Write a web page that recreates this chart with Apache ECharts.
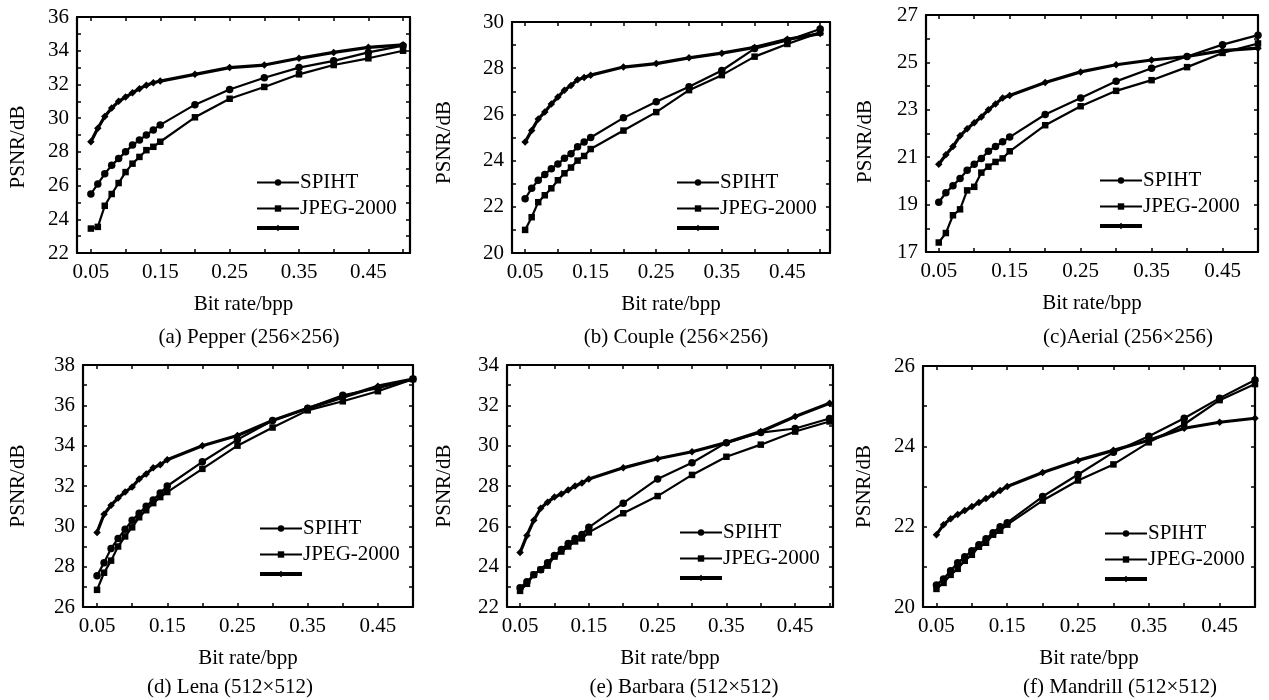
<!DOCTYPE html>
<html>
<head>
<meta charset="utf-8">
<script src="https://cdn.jsdelivr.net/npm/echarts@6/dist/echarts.min.js"></script>
<style>html,body{margin:0;padding:0;background:#fff;}#c{width:1269px;height:700px;}</style>
</head>
<body>
<div id="c"></div>
<script>
// ---- data ----
const bitRates = [0.05,0.06,0.07,0.08,0.09,0.10,0.11,0.12,0.13,0.14,0.15,0.20,0.25,0.30,0.35,0.40,0.45,0.50];
const xTickValues = [0.05,0.10,0.15,0.20,0.25,0.30,0.35,0.40,0.45,0.50];
const xLabelValues = [0.05,0.15,0.25,0.35,0.45];
const seriesNames = ['SPIHT','JPEG-2000','Proposed'];

const pepperSPIHT = [25.5,26.1,26.7,27.2,27.6,28.0,28.4,28.7,29.0,29.3,29.6,30.8,31.7,32.4,33.0,33.4,33.9,34.3];
const pepperJPEG  = [23.45,23.55,24.8,25.5,26.15,26.8,27.3,27.7,28.1,28.3,28.6,30.05,31.15,31.85,32.6,33.15,33.55,34.0];
const pepperProp  = [28.6,29.4,30.1,30.6,31.0,31.25,31.5,31.75,31.95,32.1,32.2,32.6,33.0,33.15,33.55,33.9,34.2,34.35];

const coupleSPIHT = [22.35,22.8,23.15,23.4,23.65,23.85,24.1,24.3,24.6,24.8,25.0,25.85,26.55,27.2,27.9,28.85,29.2,29.7];
const coupleJPEG  = [21.0,21.55,22.2,22.5,22.8,23.15,23.45,23.7,24.0,24.2,24.5,25.3,26.1,27.05,27.7,28.5,29.05,29.55];
const coupleProp  = [24.8,25.3,25.8,26.1,26.45,26.75,27.05,27.25,27.5,27.6,27.7,28.05,28.2,28.45,28.65,28.9,29.25,29.5];

const aerialSPIHT = [19.1,19.5,19.8,20.1,20.45,20.7,20.95,21.25,21.45,21.65,21.85,22.8,23.5,24.2,24.75,25.25,25.75,26.15];
const aerialJPEG  = [17.4,17.8,18.55,18.8,19.6,19.75,20.35,20.6,20.8,20.95,21.25,22.35,23.15,23.8,24.25,24.8,25.4,25.8];
const aerialProp  = [20.7,21.1,21.45,21.9,22.2,22.45,22.7,23.0,23.25,23.5,23.6,24.15,24.6,24.9,25.1,25.25,25.5,25.6];

const lenaSPIHT = [27.55,28.2,28.9,29.4,29.85,30.3,30.65,31.0,31.3,31.65,32.0,33.2,34.3,35.25,35.85,36.5,36.85,37.3];
const lenaJPEG  = [26.85,27.7,28.3,29.0,29.5,29.95,30.45,30.8,31.15,31.45,31.7,32.85,34.0,34.9,35.75,36.2,36.7,37.3];
const lenaProp  = [29.7,30.6,31.05,31.4,31.7,31.95,32.35,32.6,32.9,33.05,33.3,34.0,34.5,35.25,35.85,36.4,36.95,37.3];

const barbaraSPIHT = [22.95,23.25,23.6,23.85,24.2,24.55,24.85,25.15,25.4,25.6,25.95,27.15,28.35,29.15,30.15,30.65,30.85,31.35];
const barbaraJPEG  = [22.8,23.15,23.6,23.85,24.05,24.5,24.75,25.0,25.25,25.4,25.7,26.65,27.5,28.55,29.45,30.05,30.7,31.2];
const barbaraProp  = [24.7,25.55,26.3,26.9,27.2,27.45,27.6,27.8,28.0,28.15,28.35,28.9,29.35,29.7,30.15,30.7,31.45,32.1];

const mandrillSPIHT = [20.55,20.7,20.9,21.1,21.25,21.4,21.55,21.7,21.85,22.0,22.1,22.75,23.3,23.85,24.25,24.7,25.2,25.65];
const mandrillJPEG  = [20.45,20.6,20.8,20.95,21.15,21.3,21.5,21.6,21.8,21.9,22.05,22.65,23.15,23.55,24.1,24.55,25.15,25.55];
const mandrillProp  = [21.8,22.05,22.2,22.3,22.4,22.5,22.6,22.7,22.8,22.9,23.0,23.35,23.65,23.9,24.15,24.45,24.6,24.7];

const captions = ['(a) Pepper (256×256)','(b) Couple (256×256)','(c)Aerial (256×256)',
                  '(d) Lena (512×512)','(e) Barbara (512×512)','(f) Mandrill (512×512)'];
const yMins = [22,20,17,26,22,20];
const yMaxs = [36,30,27,38,34,26];
const panelSeries = [
  [pepperSPIHT,pepperJPEG,pepperProp],
  [coupleSPIHT,coupleJPEG,coupleProp],
  [aerialSPIHT,aerialJPEG,aerialProp],
  [lenaSPIHT,lenaJPEG,lenaProp],
  [barbaraSPIHT,barbaraJPEG,barbaraProp],
  [mandrillSPIHT,mandrillJPEG,mandrillProp]
];

// ---- layout ----
const FONT = 'Liberation Serif';
const layout = [
  {left:77, top:17, width:333, height:236, xmin:0.03, xmax:0.51, yGap:48, yPad:24, capX:249, capY:337, legL:255, legT:172},
  {left:512,top:22, width:318, height:231, xmin:0.03, xmax:0.515,yGap:57, yPad:10, capX:676, capY:337, legL:675, legT:172},
  {left:926,top:15, width:332, height:237, xmin:0.032,xmax:0.5, yGap:50, yPad:16, capX:1128,capY:337, legL:1098,legT:170},
  {left:83, top:365,width:330, height:242, xmin:0.03, xmax:0.5,  yGap:54, yPad:0,  capX:230, capY:687, legL:258, legT:518},
  {left:507,top:365,width:326, height:242, xmin:0.031,xmax:0.505,yGap:52, yPad:0,  capX:684, capY:687, legL:678, legT:522},
  {left:923,top:366,width:332, height:241, xmin:0.031,xmax:0.5,  yGap:48, yPad:0,  capX:1120,capY:687, legL:1103,legT:523}
];

const symbols = ['circle','rect','diamond'];
const widths = [2.2,2.2,3.2];

const grids=[], xAxes=[], yAxes=[], series=[], legends=[], graphics=[];
layout.forEach((L,i)=>{
  grids.push({left:L.left, top:L.top, width:L.width, height:L.height, containLabel:false});
  const lineS = {show:true, onZero:false, lineStyle:{color:'#000', width:2.2}};
  const tickS = {show:true, inside:true, length:4, lineStyle:{color:'#000', width:1.5}};
  xAxes.push({type:'value', gridIndex:i, position:'bottom', min:L.xmin, max:L.xmax,
    axisLine:lineS, splitLine:{show:false},
    axisTick:Object.assign({customValues:xTickValues}, tickS),
    axisLabel:{customValues:xLabelValues, formatter:v=>v.toFixed(2), color:'#000', fontFamily:FONT, fontSize:21, margin:9},
    name:'Bit rate/bpp', nameLocation:'middle', nameGap:41,
    nameTextStyle:{color:'#000', fontFamily:FONT, fontSize:21}});
  xAxes.push({type:'value', gridIndex:i, position:'top', min:L.xmin, max:L.xmax,
    axisLine:lineS, splitLine:{show:false},
    axisTick:Object.assign({customValues:xTickValues}, tickS),
    axisLabel:{show:false}});
  const ymin = yMins[i];
  yAxes.push({type:'value', gridIndex:i, position:'left', min:ymin, max:yMaxs[i], interval:1,
    axisLine:lineS, splitLine:{show:false}, axisTick:tickS,
    axisLabel:{formatter:v=>((v-ymin)%2===0? String(v):''), color:'#000', fontFamily:FONT, fontSize:21, margin:8},
    name:'PSNR/dB', nameLocation:'middle', nameGap:L.yGap, nameRotate:90,
    nameTextStyle:{color:'#000', fontFamily:FONT, fontSize:21, padding:[0,L.yPad,0,0]}});
  yAxes.push({type:'value', gridIndex:i, position:'right', min:ymin, max:yMaxs[i], interval:1,
    axisLine:lineS, splitLine:{show:false}, axisTick:tickS, axisLabel:{show:false}});
  panelSeries[i].forEach((vals,k)=>{
    series.push({type:'line', name:seriesNames[k], xAxisIndex:2*i, yAxisIndex:2*i,
      data:bitRates.map((x,j)=>[x, vals[j]]),
      symbol:symbols[k], symbolSize:k===1?6.5:7.5, showSymbol:true,
      lineStyle:{color:'#000', width:widths[k]}, itemStyle:{color:'#000'},
      emphasis:{disabled:true}, animation:false, z:3-k});
  });
  legends.push({
    data:[{name:'SPIHT', lineStyle:{width:2}}, {name:'JPEG-2000', lineStyle:{width:2}}, {name:'Proposed', lineStyle:{width:4}}],
    orient:'vertical', left:L.legL, top:L.legT, padding:0,
    itemWidth:42, itemHeight:8, itemGap:5, selectedMode:false,
    formatter:n=>(n==='Proposed'?'':n),
    textStyle:{color:'#000', fontFamily:FONT, fontSize:21, padding:[0,0,0,-4]}});
  graphics.push({type:'text', x:L.capX, y:L.capY,
    style:{text:captions[i], fill:'#000', font:'21px "Liberation Serif"', textAlign:'center', textVerticalAlign:'middle'}});
});

const chart = echarts.init(document.getElementById('c'), null, {renderer:'canvas'});
chart.setOption({
  backgroundColor:'#fff', animation:false,
  grid:grids, xAxis:xAxes, yAxis:yAxes, series:series, legend:legends, graphic:graphics
});
</script>
</body>
</html>
